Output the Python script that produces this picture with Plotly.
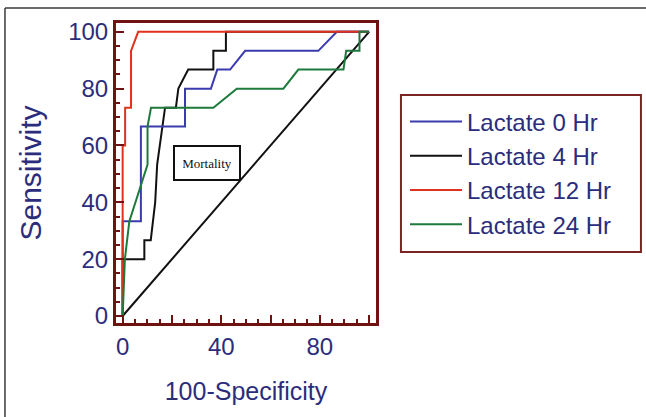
import plotly.graph_objects as go

# ROC data (100-Specificity, Sensitivity)
lact0_x = [0, 0, 7.4, 7.4, 25.3, 25.3, 35.8, 38.4, 43.6, 49.7, 79.4, 86.9, 100]
lact0_y = [0, 33.3, 33.3, 66.7, 66.7, 80, 80, 86.7, 86.7, 93.3, 93.3, 100, 100]

lact4_x = [0, 0, 8.8, 8.8, 11.4, 13.2, 14.0, 17.2, 21.6, 22.6, 26.6, 36.8, 36.8, 41.9, 41.9, 100]
lact4_y = [0, 20, 20, 26.7, 26.7, 40, 53.3, 73.3, 73.3, 80, 86.7, 86.7, 93.3, 93.3, 100, 100]

lact12_x = [0, 0, 1.0, 1.0, 3.4, 3.4, 6.3, 100]
lact12_y = [0, 60, 60, 73.3, 73.3, 93.3, 100, 100]

lact24_x = [0, 0.9, 2.7, 10.1, 10.1, 11.5, 36.8, 46.3, 65.2, 71.3, 89.6, 90.7, 96.1, 96.1, 100]
lact24_y = [0, 20, 33.3, 53.3, 66.7, 73.3, 73.3, 80, 80, 86.7, 86.7, 93.3, 93.3, 100, 100]

ref_x = [0, 100]
ref_y = [0, 100]

names = ["Lactate 0 Hr", "Lactate 4 Hr", "Lactate 12 Hr", "Lactate 24 Hr"]
colors = ["#3b3bb0", "#111111", "#e0321e", "#1e7a3c"]

NAVY = "#2b2d7c"
MAROON = "#6e1212"
FONT = "Liberation Sans, Arial, sans-serif"

fig = go.Figure()
fig.add_trace(go.Scatter(x=ref_x, y=ref_y, mode="lines", line=dict(color="#111111", width=2),
                         showlegend=False, hoverinfo="skip"))

series = {
    1: (lact4_x, lact4_y),
    0: (lact0_x, lact0_y),
    2: (lact12_x, lact12_y),
    3: (lact24_x, lact24_y),
}
for i in [1, 0, 2, 3]:
    xs, ys = series[i]
    fig.add_trace(go.Scatter(x=xs, y=ys, mode="lines", name=names[i],
                             line=dict(color=colors[i], width=2),
                             legendrank=i + 1))

axis_common = dict(
    showline=True, linecolor=MAROON, linewidth=3, mirror=True,
    ticks="inside", ticklen=8, tickwidth=2, tickcolor=MAROON,
    minor=dict(dtick=5, tick0=0, ticks="inside", ticklen=4, tickwidth=2, tickcolor=MAROON),
    showgrid=False, zeroline=False,
    tickfont=dict(family=FONT, size=24, color=NAVY),
)

fig.update_xaxes(range=[-2.7, 102.8], tickvals=[0, 20, 40, 60, 80, 100],
                 ticktext=["0", "", "40", "", "80", ""],
                 title=dict(text="100-Specificity", font=dict(family=FONT, size=25, color=NAVY), standoff=24),
                 **axis_common)
fig.update_yaxes(range=[-2.46, 103.1], tickvals=[0, 20, 40, 60, 80, 100],
                 title=dict(text="Sensitivity", font=dict(family=FONT, size=30, color=NAVY), standoff=18),
                 **axis_common)

fig.add_annotation(x=34.4, y=53.8, xref="x", yref="y", text="Mortality", showarrow=False,
                   font=dict(family="Liberation Serif, Times New Roman, serif", size=13, color="#111111"),
                   bgcolor="white", bordercolor="#111111", borderwidth=2, borderpad=8,
                   width=48, height=16)

# outer frame lines (top and left)
fig.add_shape(type="line", xref="paper", yref="paper", x0=-0.427, x1=2.1, y0=1.05, y1=1.05,
              line=dict(color="#3a3a3a", width=1.5))
fig.add_shape(type="line", xref="paper", yref="paper", x0=-0.427, x1=-0.427, y0=1.05, y1=-0.4,
              line=dict(color="#3a3a3a", width=1.5))
# legend frame
fig.add_shape(type="rect", xref="paper", yref="paper", x0=1.096, x1=2.019, y0=0.237, y1=0.76,
              line=dict(color="#7a2424", width=2), fillcolor="rgba(0,0,0,0)")

fig.update_layout(
    width=646, height=417,
    margin=dict(l=116, r=270, t=23, b=94),
    plot_bgcolor="white", paper_bgcolor="white",
    legend=dict(x=1.1115, y=0.745, xanchor="left", yanchor="top",
                borderwidth=0, bgcolor="rgba(0,0,0,0)",
                font=dict(family=FONT, size=24, color=NAVY),
                itemwidth=52),
)

fig.write_html("out.html", config={"displayModeBar": False},
               post_script="document.body.style.margin='0';document.body.style.overflow='hidden';")
